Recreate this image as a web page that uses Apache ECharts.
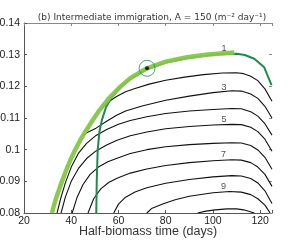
<!DOCTYPE html>
<html><head><meta charset="utf-8">
<script src="https://cdn.jsdelivr.net/npm/echarts@6/dist/echarts.min.js"></script>
<style>html,body{margin:0;padding:0;background:#fff}#c{width:302px;height:240px}</style>
</head><body><div id="c"></div>
<script>
const xTicks = [20, 40, 60, 80, 100, 120];
const yTicks = [0.08, 0.09, 0.10, 0.11, 0.12, 0.13, 0.14];
const titleText = '(b) Intermediate immigration, A = 150 (m\u207B\u00B2 day\u207B\u00B9)';
const xName = 'Half-biomass time (days)';

const greenLight = [[31.8,0.080],[33.5,0.0845],[35.3,0.0884],[37.5,0.0928],[39.5,0.0965],[41.5,0.0997],[43.8,0.1030],[46.2,0.1060],[48.8,0.1090],[52,0.1125],[56,0.1163],[60.8,0.1199],[65,0.1226],[72,0.1257],[80,0.1278],[89,0.1292],[97,0.1300],[103,0.1304],[109,0.1307]];
const greenDark = [[50.6,0.080],[50.8,0.090],[51.2,0.100],[52,0.1060],[53,0.1094],[54.7,0.1134],[57,0.1164],[60.8,0.1196],[65,0.1223],[72,0.1254],[80,0.1275],[89,0.1289],[97,0.1297],[103,0.1301],[110,0.1303],[113.5,0.1299],[117.5,0.1287],[121.7,0.1260],[124.8,0.1204]];
const c2 = [[53,0.1133],[56,0.1152],[59,0.1167],[63,0.1183],[67,0.1193],[73,0.1207],[80,0.1219],[88,0.1229],[96,0.1237],[104,0.1242],[110,0.1243],[113,0.1240],[116,0.1232],[119,0.1218],[122,0.1192],[125,0.1153]];
const c3 = [[45,0.1045],[47,0.1055],[50.5,0.1068],[55,0.1090],[59,0.1108],[63,0.1122],[70,0.1138],[80,0.1156],[90,0.1169],[100,0.1180],[108,0.1186],[112,0.1185],[116,0.1176],[119,0.1162],[122,0.1137],[125,0.1100]];
const c4 = [[34,0.080],[35.5,0.0845],[37.5,0.0895],[40,0.0945],[43,0.0988],[46.5,0.1020],[50.5,0.1045],[55,0.1064],[60,0.1080],[65,0.1092],[72,0.1104],[80,0.1114],[90,0.1122],[100,0.1127],[108,0.1130],[112,0.1129],[116,0.1120],[119,0.1106],[122,0.1082],[125,0.1046]];
const c5 = [[35.7,0.080],[37.5,0.0850],[40,0.0900],[43,0.0940],[46.5,0.0972],[50.5,0.0996],[55,0.1015],[59.4,0.1030],[65,0.1044],[72,0.1056],[80,0.1066],[90,0.1073],[100,0.1078],[108,0.1080],[112,0.1079],[116,0.1071],[119,0.1057],[122,0.1033],[125,0.0995]];
const c6 = [[40.4,0.080],[42.5,0.0850],[45,0.0890],[48,0.0922],[51.5,0.0945],[55.5,0.0962],[59.4,0.0973],[65,0.0988],[72,0.1000],[80,0.1009],[90,0.1016],[100,0.1020],[108,0.1022],[112,0.1021],[116,0.1013],[119,0.0999],[122,0.0976],[125,0.0938]];
const c7 = [[47.1,0.080],[49.5,0.0845],[52.5,0.0876],[56,0.0897],[59.4,0.0910],[65,0.0926],[72,0.0939],[80,0.0950],[90,0.0959],[100,0.0965],[108,0.0968],[112,0.0967],[116,0.0959],[119,0.0945],[122,0.0922],[125,0.0884]];
const c8 = [[58,0.080],[60,0.0828],[63,0.0850],[67,0.0866],[72,0.0880],[80,0.0894],[90,0.0906],[100,0.0914],[108,0.0918],[112,0.0917],[116,0.0909],[119,0.0895],[122,0.0870],[125,0.0830]];
const c9 = [[72,0.080],[74,0.0814],[79,0.0829],[84,0.0842],[90,0.0853],[100,0.0864],[107,0.0868],[112,0.0866],[116,0.0858],[119,0.0845],[122,0.0825],[124.2,0.080]];
const c10 = [[93.5,0.080],[97,0.0806],[101,0.0810],[106,0.0813],[110,0.0813],[113,0.0810],[115.5,0.0805],[117.5,0.080]];
const contourLabels = [[104.7,0.1319,'1'],[104.7,0.1197,'3'],[104.7,0.1094,'5'],[104.5,0.0985,'7'],[104.5,0.0883,'9']];
const optimum = [[72.1,0.1257]];

const chart = echarts.init(document.getElementById('c'), null, {renderer:'canvas'});
const FONT = 'Liberation Sans';
function contour(d){return {type:'line',data:d,showSymbol:false,symbol:'none',lineStyle:{color:'#111',width:1.1},z:3,silent:true,animation:false};}
chart.setOption({
  animation:false,
  backgroundColor:'#fff',
  title:{text:titleText,left:147,top:8,textAlign:'center',textStyle:{fontFamily:'DejaVu Sans',fontSize:9,fontWeight:'normal',color:'#333'}},
  grid:{left:24,right:30,top:23,bottom:27,containLabel:false,outerBoundsMode:'none'},
  xAxis:[{type:'value',min:20,max:125,interval:20,
    name:xName,nameLocation:'middle',nameGap:12,nameMoveOverlap:false,nameTextStyle:{fontFamily:FONT,fontSize:12.5,color:'#333',verticalAlign:'top'},
    axisLine:{show:true,lineStyle:{color:'#555',width:1}},
    axisTick:{show:true,inside:true,length:3,lineStyle:{color:'#555'}},
    axisLabel:{fontFamily:FONT,fontSize:10.5,color:'#222',margin:3,formatter:v=>xTicks.includes(v)?String(v):''},
    splitLine:{show:false}},
   {type:'value',position:'top',min:20,max:125,interval:20,
    axisLine:{show:true,onZero:false,lineStyle:{color:'#888',width:1}},
    axisTick:{show:true,inside:true,length:3,lineStyle:{color:'#888'}},
    axisLabel:{show:false},splitLine:{show:false}}],
  yAxis:[{type:'value',min:0.08,max:0.14,interval:0.01,
    axisLine:{show:true,lineStyle:{color:'#555',width:1}},
    axisTick:{show:true,inside:true,length:3,lineStyle:{color:'#555'}},
    axisLabel:{fontFamily:FONT,fontSize:10.5,color:'#222',margin:4,formatter:v=>{const m=yTicks.find(t=>Math.abs(t-v)<1e-9);return m===undefined?'':String(+m.toFixed(2));}},
    splitLine:{show:false}},
   {type:'value',position:'right',min:0.08,max:0.14,interval:0.01,
    axisLine:{show:false},
    axisTick:{show:true,inside:true,length:3,lineStyle:{color:'#888'}},
    axisLabel:{show:false},splitLine:{show:false}}],
  series:[
    contour(c2),contour(c3),contour(c4),contour(c5),contour(c6),contour(c7),contour(c8),contour(c9),contour(c10),
    {type:'line',data:greenDark,showSymbol:false,symbol:'none',lineStyle:{color:'#1f8a4c',width:2},z:4},
    {type:'line',data:greenLight,showSymbol:false,symbol:'none',lineStyle:{color:'#86c64a',width:4.5,opacity:0.95},z:5},
    {type:'scatter',data:optimum,symbol:'circle',symbolSize:16,itemStyle:{color:'rgba(0,0,0,0)',borderColor:'#1f8a4c',borderWidth:1},z:6},
    {type:'scatter',data:optimum,symbol:'circle',symbolSize:4,itemStyle:{color:'#000'},z:7},
    {type:'scatter',data:contourLabels,symbolSize:0,z:8,
      label:{show:true,position:'inside',formatter:p=>p.data[2],fontFamily:FONT,fontSize:9,color:'#222'}}
  ]
});
</script></body></html>
